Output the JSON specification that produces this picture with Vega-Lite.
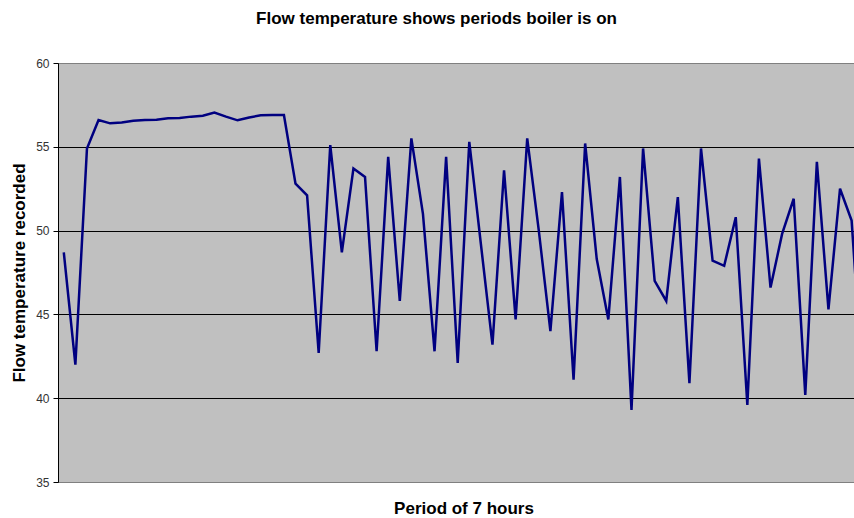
{
  "$schema": "https://vega.github.io/schema/vega-lite/v6.json",
  "width": 811,
  "height": 419,
  "autosize": {"type": "none"},
  "padding": {"left": 58, "top": 63, "right": 0, "bottom": 36},
  "background": "white",
  "config": {
    "view": {"fill": "#c0c0c0", "stroke": "#808080", "strokeWidth": 1},
    "font": "Liberation Sans"
  },
  "title": {
    "text": "Flow temperature shows periods boiler is on",
    "font": "Liberation Sans",
    "fontSize": 17,
    "fontWeight": "bold",
    "color": "black",
    "anchor": "middle",
    "dx": -27,
    "offset": 29
  },
  "data": {
    "values": [
      {"period": 0, "temp": 48.7}, {"period": 1, "temp": 42.0}, {"period": 2, "temp": 54.9},
      {"period": 3, "temp": 56.6}, {"period": 4, "temp": 56.4}, {"period": 5, "temp": 56.45},
      {"period": 6, "temp": 56.55}, {"period": 7, "temp": 56.6}, {"period": 8, "temp": 56.62},
      {"period": 9, "temp": 56.7}, {"period": 10, "temp": 56.72}, {"period": 11, "temp": 56.8},
      {"period": 12, "temp": 56.85}, {"period": 13, "temp": 57.04}, {"period": 14, "temp": 56.8},
      {"period": 15, "temp": 56.58}, {"period": 16, "temp": 56.75}, {"period": 17, "temp": 56.88},
      {"period": 18, "temp": 56.9}, {"period": 19, "temp": 56.9}, {"period": 20, "temp": 52.8},
      {"period": 21, "temp": 52.1}, {"period": 22, "temp": 42.7}, {"period": 23, "temp": 55.1},
      {"period": 24, "temp": 48.7}, {"period": 25, "temp": 53.7}, {"period": 26, "temp": 53.2},
      {"period": 27, "temp": 42.8}, {"period": 28, "temp": 54.4}, {"period": 29, "temp": 45.8},
      {"period": 30, "temp": 55.5}, {"period": 31, "temp": 51.0}, {"period": 32, "temp": 42.8},
      {"period": 33, "temp": 54.4}, {"period": 34, "temp": 42.1}, {"period": 35, "temp": 55.3},
      {"period": 36, "temp": 49.2}, {"period": 37, "temp": 43.2}, {"period": 38, "temp": 53.6},
      {"period": 39, "temp": 44.7}, {"period": 40, "temp": 55.5}, {"period": 41, "temp": 50.0},
      {"period": 42, "temp": 44.0}, {"period": 43, "temp": 52.3}, {"period": 44, "temp": 41.1},
      {"period": 45, "temp": 55.2}, {"period": 46, "temp": 48.3}, {"period": 47, "temp": 44.7},
      {"period": 48, "temp": 53.2}, {"period": 49, "temp": 39.3}, {"period": 50, "temp": 54.9},
      {"period": 51, "temp": 47.0}, {"period": 52, "temp": 45.8}, {"period": 53, "temp": 52.0},
      {"period": 54, "temp": 40.9}, {"period": 55, "temp": 54.9}, {"period": 56, "temp": 48.2},
      {"period": 57, "temp": 47.9}, {"period": 58, "temp": 50.8}, {"period": 59, "temp": 39.6},
      {"period": 60, "temp": 54.3}, {"period": 61, "temp": 46.6}, {"period": 62, "temp": 49.8},
      {"period": 63, "temp": 51.9}, {"period": 64, "temp": 40.2}, {"period": 65, "temp": 54.1},
      {"period": 66, "temp": 45.3}, {"period": 67, "temp": 52.5}, {"period": 68, "temp": 50.6},
      {"period": 69, "temp": 40.3}
    ]
  },
  "mark": {"type": "line", "color": "#000080", "strokeWidth": 2.5, "clip": true},
  "encoding": {
    "x": {
      "field": "period",
      "type": "quantitative",
      "scale": {"domain": [-0.5, 69.5], "nice": false, "zero": false},
      "axis": {
        "title": "Period of 7 hours",
        "labels": false,
        "ticks": false,
        "grid": false,
        "domain": true,
        "domainColor": "#808080",
        "titleFont": "Liberation Sans",
        "titleFontSize": 17,
        "titleFontWeight": "bold",
        "titleColor": "black",
        "titlePadding": 18
      }
    },
    "y": {
      "field": "temp",
      "type": "quantitative",
      "scale": {"domain": [35, 60], "nice": false, "zero": false},
      "axis": {
        "values": [35, 40, 45, 50, 55, 60],
        "grid": true,
        "gridColor": {"condition": {"test": "datum.value == 35 || datum.value == 60", "value": "#808080"}, "value": "black"},
        "gridOpacity": 1,
        "gridWidth": 1,
        "domainColor": "black",
        "tickColor": "black",
        "tickSize": 5,
        "labelFont": "Liberation Sans",
        "labelFontSize": 12,
        "labelColor": "#333333",
        "labelPadding": 4,
        "title": "Flow temperature recorded",
        "titleFont": "Liberation Sans",
        "titleFontSize": 17,
        "titleFontWeight": "bold",
        "titleColor": "black",
        "titlePadding": 7
      }
    }
  }
}
